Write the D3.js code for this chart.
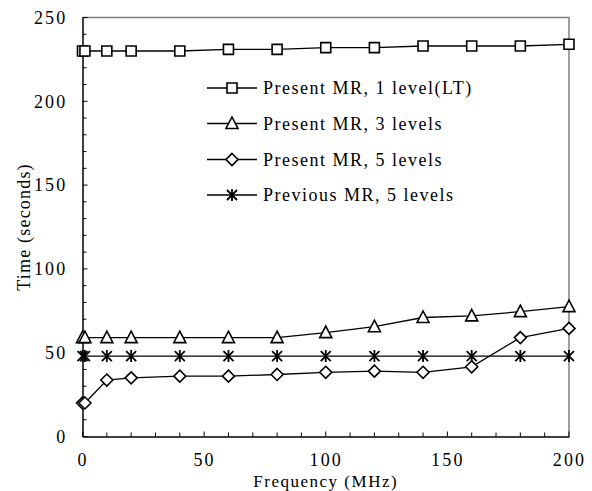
<!DOCTYPE html>
<html>
<head>
<meta charset="utf-8">
<script src="https://cdn.jsdelivr.net/npm/d3@7"></script>
<style>
  html, body { margin: 0; padding: 0; background: #fff; }
  svg text { font-family: "Liberation Serif", "DejaVu Serif", "Times New Roman", serif !important; fill: #000; }
</style>
</head>
<body>
<svg id="chart" width="592" height="491"></svg>
<script>
// Frequency points (MHz)
const frequency = [0, 1, 10, 20, 40, 60, 80, 100, 120, 140, 160, 180, 200];

// Run time (seconds) for each configuration
const present1Level = [230, 230, 230, 230, 230, 231, 231, 232, 232, 233, 233, 233, 234];
const present3Levels = [59, 59, 59, 59, 59, 59, 59, 62, 65.5, 71, 72, 74.5, 77.5];
const present5Levels = [20, 20, 33.7, 35, 36, 36, 37, 38.3, 39, 38.3, 41.6, 59, 64.5];
const previous5Levels = [48, 48, 48, 48, 48, 48, 48, 48, 48, 48, 48, 48, 48];

const seriesNames = [
  "Present MR, 1 level(LT)",
  "Present MR, 3 levels",
  "Present MR, 5 levels",
  "Previous MR, 5 levels"
];
const seriesValues = [present1Level, present3Levels, present5Levels, previous5Levels];
const seriesMarkers = ["square", "triangle", "diamond", "star"];

const xTicks = [0, 50, 100, 150, 200];
const yTicks = [0, 50, 100, 150, 200, 250];

const svg = d3.select("#chart");
const plot = { left: 82.5, right: 569, top: 17.5, bottom: 436.5 };

const x = d3.scaleLinear().domain([0, 200]).range([plot.left, plot.right]);
const y = d3.scaleLinear().domain([0, 250]).range([plot.bottom, plot.top]);

// Top and right frame
svg.append("path")
  .attr("d", `M${plot.left},${plot.top}H${plot.right}V${plot.bottom}`)
  .attr("fill", "none").attr("stroke", "#808080").attr("stroke-width", 1.5);

// Minor ticks every 10 units, pointing inward
const xMinor = d3.range(0, 201, 10);
const yMinor = d3.range(0, 251, 10);
svg.append("g").selectAll("line").data(xMinor).join("line")
  .attr("x1", d => x(d)).attr("x2", d => x(d))
  .attr("y1", plot.bottom).attr("y2", d => plot.bottom - (d % 50 === 0 ? 5 : 4))
  .attr("stroke", "#000").attr("stroke-width", 1);
svg.append("g").selectAll("line").data(yMinor).join("line")
  .attr("y1", d => y(d)).attr("y2", d => y(d))
  .attr("x1", plot.left).attr("x2", d => plot.left + (d % 50 === 0 ? 5 : 4))
  .attr("stroke", "#000").attr("stroke-width", 1);

// Axes with labels
const xAxis = svg.append("g").attr("transform", `translate(0,${plot.bottom})`)
  .call(d3.axisBottom(x).tickValues(xTicks).tickSize(0).tickPadding(16.5));
const yAxis = svg.append("g").attr("transform", `translate(${plot.left},0)`)
  .call(d3.axisLeft(y).tickValues(yTicks).tickSize(0).tickPadding(15));
[xAxis, yAxis].forEach(g => {
  g.attr("font-family", null).attr("font-size", null);
  g.select(".domain").attr("stroke", "#000").attr("stroke-width", 1.5);
  g.selectAll("text").attr("font-size", 18).attr("letter-spacing", 2.2);
});

// Axis titles
svg.append("text").attr("x", (plot.left + plot.right) / 2).attr("y", 486.5)
  .attr("text-anchor", "middle").attr("font-size", 17).attr("letter-spacing", 1.5)
  .text("Frequency (MHz)");
svg.append("text").attr("transform", `translate(30,${(plot.top + plot.bottom) / 2}) rotate(-90)`)
  .attr("text-anchor", "middle").attr("font-size", 18).attr("letter-spacing", 1.2)
  .text("Time (seconds)");

// Marker shapes
function markerPath(type, s) {
  const h = s / 2;
  if (type === "square") return `M${-h},${-h}H${h}V${h}H${-h}Z`;
  if (type === "triangle") return `M0,${-h - 1.5}L${h + 1},${h}H${-h - 1}Z`;
  if (type === "diamond") return `M0,${-h - 1}L${h + 1},0L0,${h + 1}L${-h - 1},0Z`;
  // asterisk: vertical stroke plus two diagonals
  return `M0,${-h - 1}V${h + 1}M${-h},${-h}L${h},${h}M${-h},${h}L${h},${-h}`;
}

const line = d3.line().x(d => x(d[0])).y(d => y(d[1]));

seriesValues.forEach((vals, i) => {
  const pts = frequency.map((f, j) => [f, vals[j]]);
  const g = svg.append("g");
  g.append("path").attr("d", line(pts)).attr("fill", "none")
    .attr("stroke", "#000").attr("stroke-width", 1.3);
  g.selectAll("path.m").data(pts).join("path").attr("class", "m")
    .attr("transform", d => `translate(${x(d[0])},${y(d[1])})`)
    .attr("d", markerPath(seriesMarkers[i], 10))
    .attr("fill", seriesMarkers[i] === "star" ? "none" : "#fff")
    .attr("stroke", "#000").attr("stroke-width", seriesMarkers[i] === "star" ? 1.8 : 1.6);
});

// Legend
const legendY = [88, 123.5, 159.5, 195];
const legend = svg.append("g");
seriesNames.forEach((name, i) => {
  const ly = legendY[i];
  legend.append("line").attr("x1", 207).attr("x2", 257).attr("y1", ly).attr("y2", ly)
    .attr("stroke", "#000").attr("stroke-width", 1.3);
  legend.append("path").attr("transform", `translate(232,${ly})`)
    .attr("d", markerPath(seriesMarkers[i], 10))
    .attr("fill", seriesMarkers[i] === "star" ? "none" : "#fff")
    .attr("stroke", "#000").attr("stroke-width", seriesMarkers[i] === "star" ? 1.8 : 1.6);
  legend.append("text").attr("x", 263).attr("y", ly + 6).attr("font-size", 18)
    .attr("letter-spacing", 1.5).text(name);
});
</script>
</body>
</html>
